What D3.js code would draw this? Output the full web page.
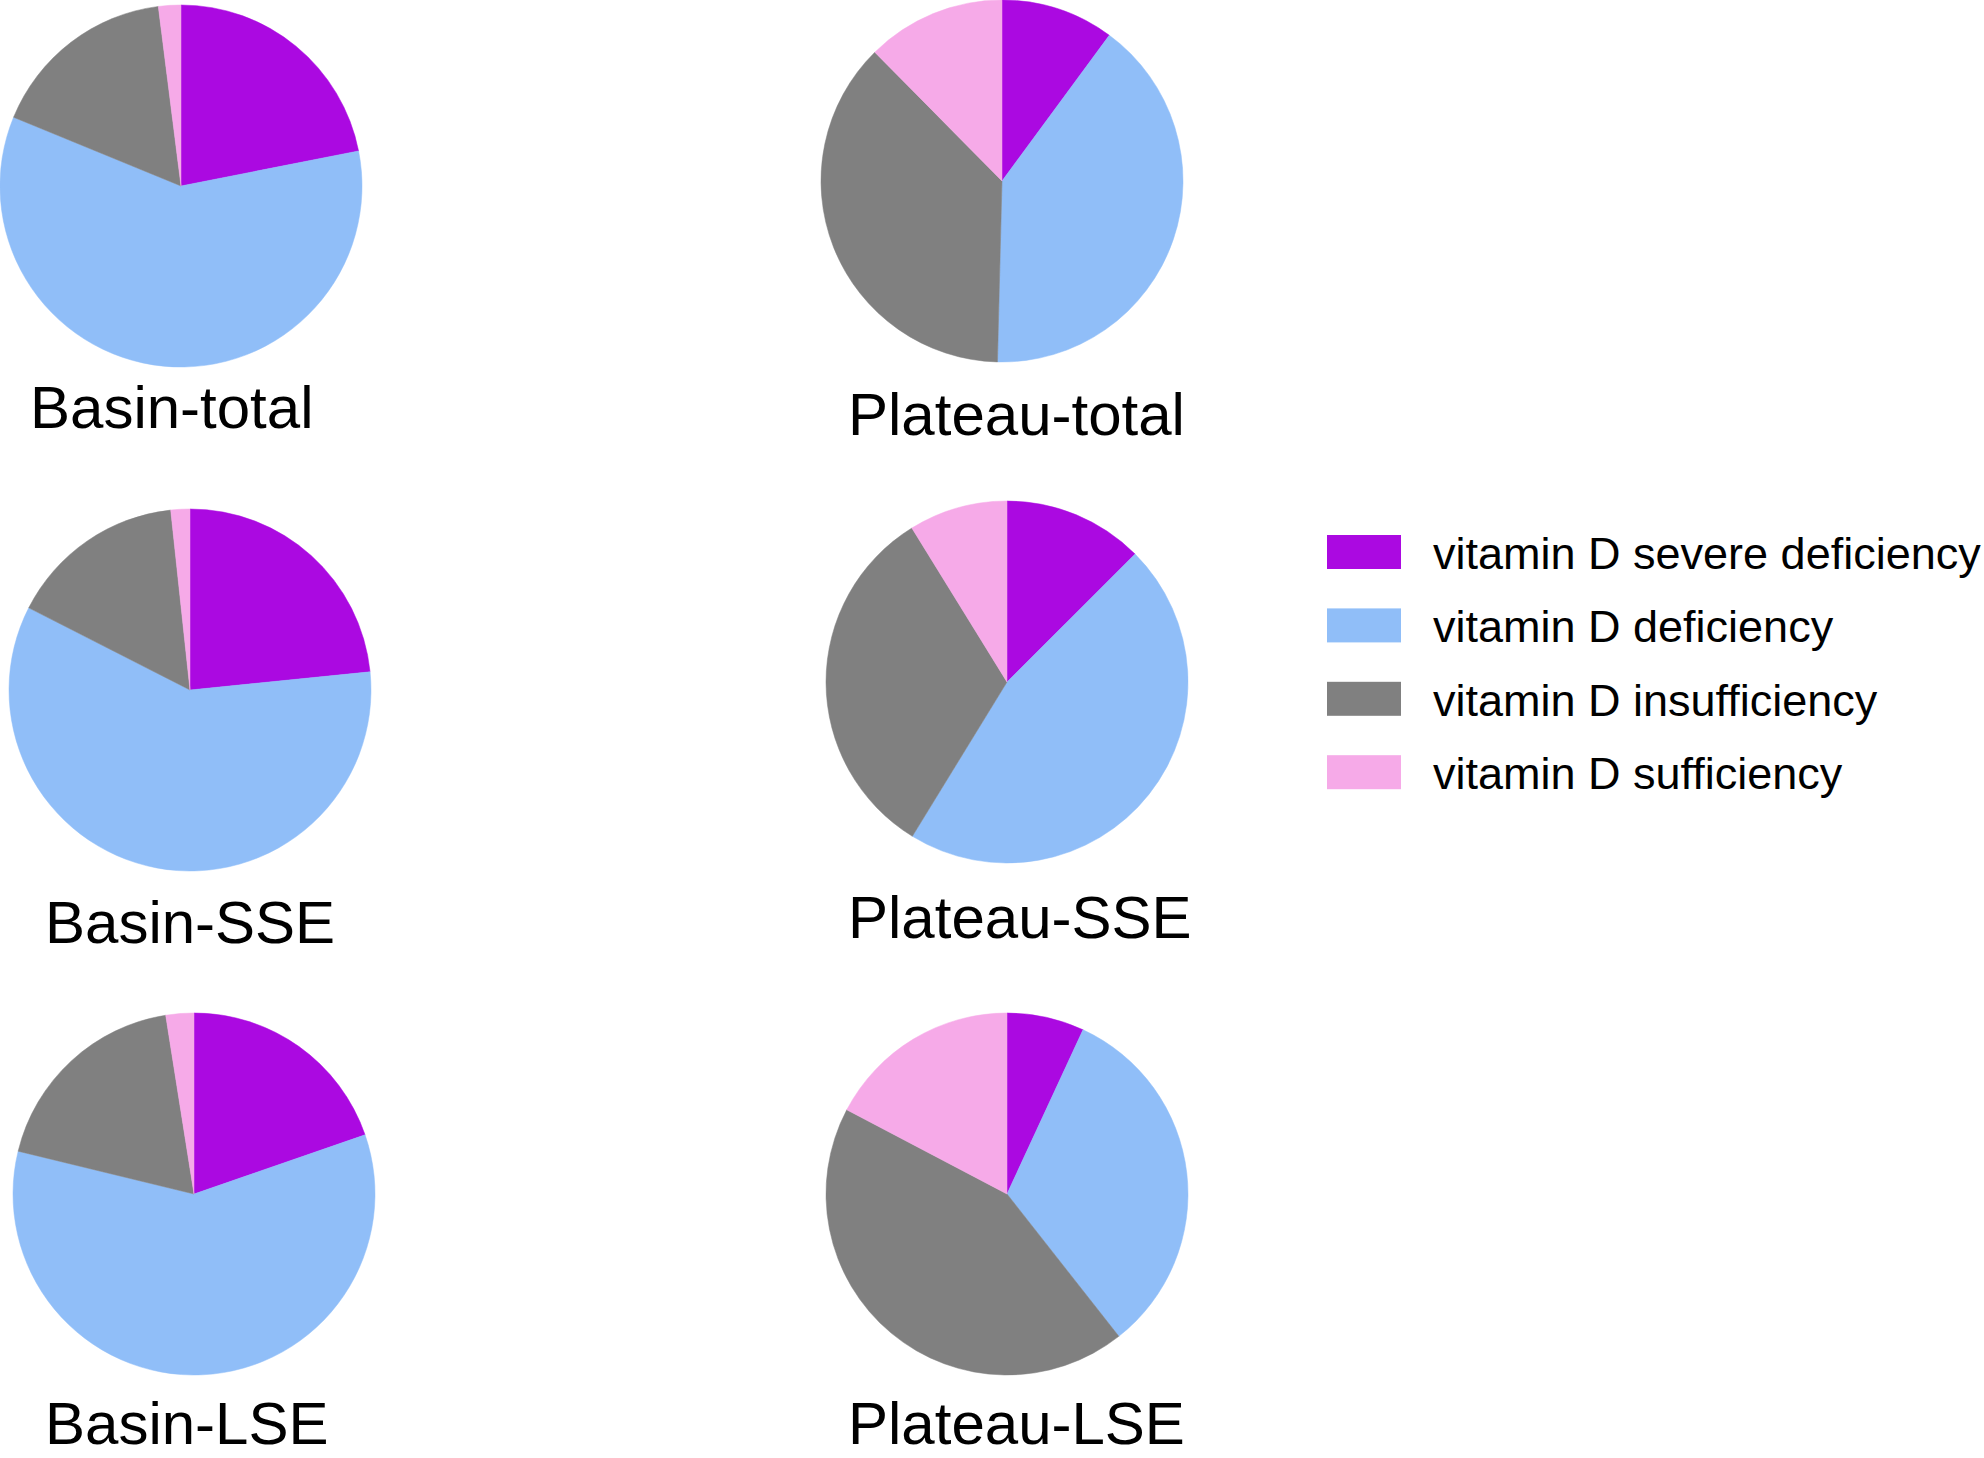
<!DOCTYPE html>
<html>
<head>
<meta charset="utf-8">
<script src="https://cdn.jsdelivr.net/npm/d3@7"></script>
<style>
  body { margin: 0; background: #fff; }
  text { font-family: "Liberation Sans", Arial, sans-serif; fill: #000; }
</style>
</head>
<body>
<svg id="chart"></svg>
<script>
// Categories (legend order, also slice order clockwise from 12 o'clock)
const categories = [
  'vitamin D severe deficiency',
  'vitamin D deficiency',
  'vitamin D insufficiency',
  'vitamin D sufficiency'
];

// Share of each category (%) per group
const basinTotal   = [21.9, 59.3, 16.8, 2.0];
const plateauTotal = [10.1, 40.3, 37.2, 12.4];
const basinSSE     = [23.4, 59.1, 15.8, 1.7];
const plateauSSE   = [12.5, 46.2, 32.4, 8.8];
const basinLSE     = [19.7, 59.1, 18.7, 2.5];
const plateauLSE   = [6.9, 32.5, 43.3, 17.3];

const groupNames = ['Basin-total', 'Plateau-total', 'Basin-SSE', 'Plateau-SSE', 'Basin-LSE', 'Plateau-LSE'];
const groupValues = [basinTotal, plateauTotal, basinSSE, plateauSSE, basinLSE, plateauLSE];

const colors = ['#ab09e1', '#90bef8', '#808080', '#f6aae8'];

const width = 1984, height = 1458;
const radius = 181;

// Layout of each panel: pie centre and label anchor (left x, baseline y)
const panels = [
  { cx: 181,  cy: 186,  lx: 30,  ly: 428 },
  { cx: 1002, cy: 181,  lx: 848, ly: 435 },
  { cx: 190,  cy: 690,  lx: 45,  ly: 943 },
  { cx: 1007, cy: 682,  lx: 848, ly: 938 },
  { cx: 194,  cy: 1194, lx: 45,  ly: 1444 },
  { cx: 1007, cy: 1194, lx: 848, ly: 1444 }
];

const svg = d3.select('#chart')
  .attr('width', width)
  .attr('height', height);

const color = d3.scaleOrdinal().domain(categories).range(colors);
const pie = d3.pie().sort(null).value(d => d.value);
const arc = d3.arc().innerRadius(0).outerRadius(radius);

groupNames.forEach((name, i) => {
  const p = panels[i];
  const data = categories.map((c, j) => ({ category: c, value: groupValues[i][j] }));

  const g = svg.append('g')
    .attr('transform', `translate(${p.cx},${p.cy})`);

  g.selectAll('path')
    .data(pie(data))
    .enter()
    .append('path')
    .attr('d', arc)
    .attr('fill', d => color(d.data.category))
    .attr('stroke', d => color(d.data.category))
    .attr('stroke-width', 0.5);

  svg.append('text')
    .attr('x', p.lx)
    .attr('y', p.ly)
    .style('font-size', '60px')
    .text(name);
});

// Legend
const legend = svg.append('g')
  .attr('transform', 'translate(1327,535)');

const rows = legend.selectAll('g')
  .data(categories)
  .enter()
  .append('g')
  .attr('transform', (d, i) => `translate(0,${i * 73.4})`);

rows.append('rect')
  .attr('width', 74)
  .attr('height', 34)
  .attr('fill', d => color(d));

rows.append('text')
  .attr('x', 106)
  .attr('y', 34)
  .style('font-size', '45px')
  .text(d => d);
</script>
</body>
</html>
